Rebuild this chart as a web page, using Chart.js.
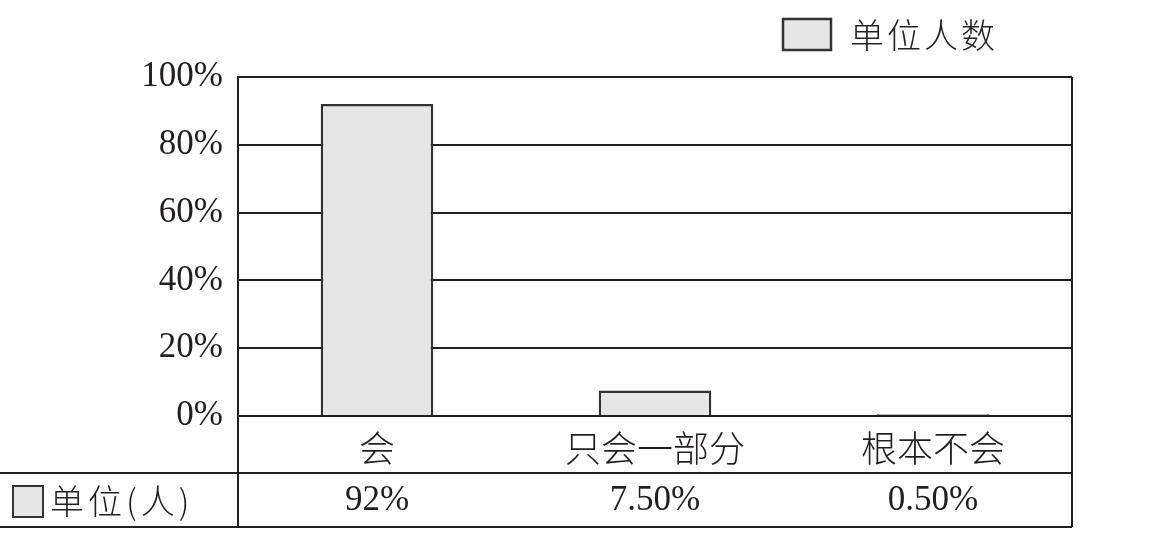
<!DOCTYPE html>
<html>
<head>
<meta charset="utf-8">
<script src="https://cdn.jsdelivr.net/npm/chart.js@4"></script>
<style>
  body { margin: 0; background: #fff; }
  canvas { display: block; }
</style>
</head>
<body>
<canvas id="chart" width="1151" height="557"></canvas>
<script>
// donnees
const categories = ['会', '只会一部分', '根本不会'];
const valeurs = [92, 7.5, 0.5];
const valeursTableau = ['92%', '7.50%', '0.50%'];
const yTicks = [0, 20, 40, 60, 80, 100];
const nomSerie = '单位人数';
const nomLigne = '单位(人)';

const noir = '#231f20';
const gris = '#e6e6e6';
const serif = '"Liberation Serif", "Times New Roman", serif';
const cjk = '"Noto Sans CJK SC", sans-serif';

// legende + tableau sous l'axe
const tableauPlugin = {
  id: 'tableau',
  afterDraw(chart) {
    const ctx = chart.ctx;
    const { left, right, top } = chart.chartArea;
    const x = chart.scales.x;
    const ligneY = 473, basY = 527;
    ctx.save();
    ctx.strokeStyle = noir;
    ctx.lineWidth = 2;
    ctx.beginPath();
    ctx.moveTo(left, top); ctx.lineTo(left, basY);
    ctx.moveTo(right, top); ctx.lineTo(right, basY);
    ctx.moveTo(0, ligneY); ctx.lineTo(right, ligneY);
    ctx.moveTo(0, basY); ctx.lineTo(right, basY);
    ctx.stroke();

    // ligne de donnees
    ctx.fillStyle = gris;
    ctx.fillRect(13, 486, 30, 31);
    ctx.strokeStyle = '#333';
    ctx.strokeRect(13, 486, 30, 31);
    ctx.fillStyle = noir;
    ctx.font = '300 34px ' + cjk;
    ctx.textAlign = 'left';
    ctx.textBaseline = 'middle';
    ctx.letterSpacing = '4px';
    ctx.fillText(nomLigne, 50, 501);

    // legende en haut
    ctx.letterSpacing = '3px';
    ctx.fillText(nomSerie, 850, 35);
    ctx.letterSpacing = '0px';

    ctx.font = '35px ' + serif;
    ctx.textAlign = 'center';
    valeursTableau.forEach((t, i) => {
      ctx.fillText(t, x.getPixelForValue(i), 501);
    });

    ctx.fillStyle = gris;
    ctx.fillRect(783, 19, 48, 31);
    ctx.strokeStyle = '#333';
    ctx.lineWidth = 2.5;
    ctx.strokeRect(783, 19, 48, 31);
    ctx.restore();
  }
};

new Chart(document.getElementById('chart'), {
  type: 'bar',
  data: {
    labels: categories,
    datasets: [{
      label: nomSerie,
      data: valeurs,
      backgroundColor: gris,
      borderColor: '#333',
      borderWidth: 2.5,
      barPercentage: 0.405,
      categoryPercentage: 1
    }]
  },
  options: {
    responsive: false,
    animation: false,
    layout: { padding: { top: 77, right: 79, bottom: 0, left: 0 } },
    plugins: { legend: { display: false }, tooltip: { enabled: false } },
    scales: {
      x: {
        afterFit: s => { s.height = 141; },
        grid: { display: false, drawTicks: false },
        border: { display: true, color: noir, width: 2 },
        ticks: { color: noir, font: { family: cjk, size: 36, weight: 300 }, padding: 11 }
      },
      y: {
        min: 0,
        max: 100,
        afterFit: s => { s.width = 238; },
        afterBuildTicks: s => { s.ticks = yTicks.map(v => ({ value: v })); },
        grid: { color: noir, lineWidth: 2, drawTicks: false },
        border: { display: true, color: noir, width: 2 },
        ticks: {
          color: noir,
          padding: 15,
          font: { family: serif, size: 35 },
          callback: v => v + '%'
        }
      }
    }
  },
  plugins: [tableauPlugin]
});
</script>
</body>
</html>
